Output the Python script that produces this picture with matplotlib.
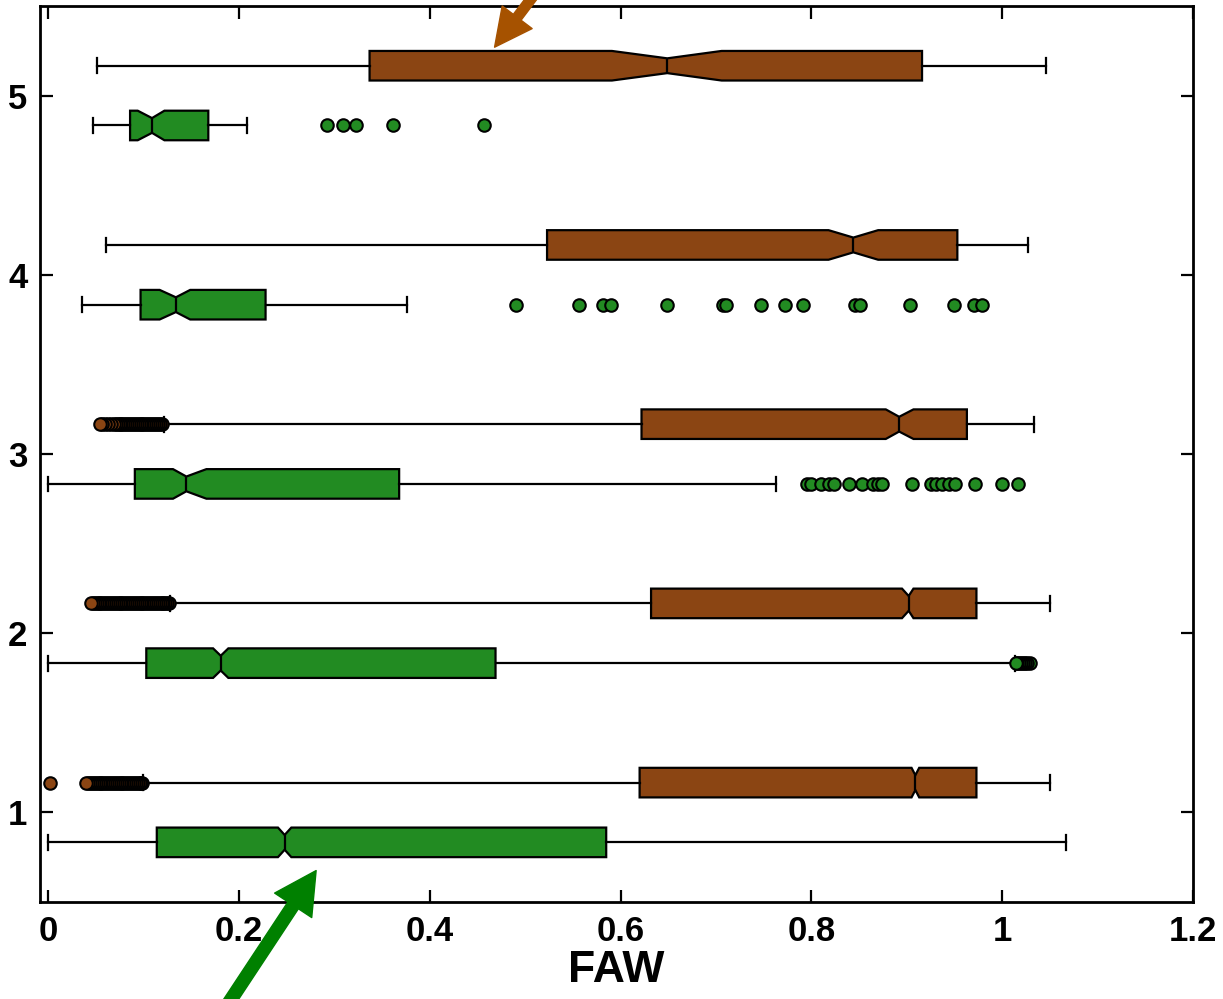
import matplotlib
matplotlib.use("Agg")
import matplotlib.pyplot as plt

plt.rcParams['font.family'] = ['Liberation Sans', 'DejaVu Sans']

# brown boxes (upper one at each level), levels 1..5
brown_whislo = [0.100, 0.128, 0.122, 0.061, 0.051]
brown_q1 = [0.620, 0.632, 0.622, 0.523, 0.337]
brown_cilo = [0.905, 0.895, 0.878, 0.818, 0.591]
brown_med = [0.909, 0.902, 0.892, 0.844, 0.649]
brown_cihi = [0.913, 0.907, 0.907, 0.870, 0.706]
brown_q3 = [0.973, 0.973, 0.963, 0.953, 0.916]
brown_whishi = [1.050, 1.050, 1.033, 1.027, 1.046]
# outliers listed high to low (the low ones end up on top)
brown_fliers = [
    [0.099, 0.097, 0.096, 0.094, 0.092, 0.090, 0.088, 0.086, 0.084, 0.082,
     0.080, 0.078, 0.076, 0.074, 0.072, 0.070, 0.068, 0.066, 0.064, 0.062,
     0.060, 0.058, 0.056, 0.054, 0.052, 0.050, 0.048, 0.046, 0.044, 0.042,
     0.040, 0.002],
    [0.127, 0.125, 0.123, 0.121, 0.119, 0.117, 0.115, 0.113, 0.111, 0.109,
     0.107, 0.105, 0.103, 0.101, 0.099, 0.097, 0.095, 0.093, 0.091, 0.089,
     0.087, 0.085, 0.083, 0.081, 0.079, 0.077, 0.075, 0.073, 0.071, 0.069,
     0.067, 0.065, 0.063, 0.061, 0.059, 0.057, 0.055, 0.053, 0.051, 0.049,
     0.047, 0.045],
    [0.119, 0.117, 0.115, 0.113, 0.111, 0.109, 0.107, 0.105, 0.103, 0.101,
     0.099, 0.097, 0.095, 0.093, 0.091, 0.089, 0.087, 0.085, 0.083, 0.081,
     0.079, 0.077, 0.075, 0.073, 0.071, 0.069, 0.066, 0.063, 0.060, 0.057,
     0.054],
    [],
    [],
]

# green boxes (lower one at each level)
green_whislo = [0.000, 0.000, 0.000, 0.036, 0.047]
green_q1 = [0.114, 0.103, 0.091, 0.097, 0.086]
green_cilo = [0.241, 0.173, 0.131, 0.117, 0.094]
green_med = [0.248, 0.181, 0.145, 0.134, 0.109]
green_cihi = [0.255, 0.189, 0.166, 0.149, 0.122]
green_q3 = [0.585, 0.469, 0.368, 0.228, 0.168]
green_whishi = [1.067, 1.013, 0.763, 0.376, 0.209]
green_fliers = [
    [],
    [1.029, 1.026, 1.024, 1.022, 1.020, 1.018, 1.016, 1.014],
    [0.795, 0.800, 0.810, 0.818, 0.824, 0.839, 0.853, 0.865, 0.870, 0.874,
     0.905, 0.925, 0.931, 0.937, 0.944, 0.951, 0.972, 1.000, 1.017],
    [0.490, 0.556, 0.582, 0.590, 0.649, 0.707, 0.711, 0.747, 0.772, 0.791,
     0.846, 0.851, 0.903, 0.950, 0.970, 0.979],
    [0.292, 0.309, 0.323, 0.362, 0.457],
]

levels = [1, 2, 3, 4, 5]
brown = '#8B4513'
green = '#228B22'


def make_stats(whislo, q1, cilo, med, cihi, q3, whishi, fliers):
    stats = []
    for i in range(len(med)):
        stats.append(dict(whislo=whislo[i], q1=q1[i], cilo=cilo[i], med=med[i],
                          cihi=cihi[i], q3=q3[i], whishi=whishi[i],
                          fliers=fliers[i]))
    return stats


fig = plt.figure(figsize=(12.23, 9.99), dpi=100)
ax = fig.add_axes([0.0327, 0.097, 0.9428, 0.897])

groups = [
    (make_stats(brown_whislo, brown_q1, brown_cilo, brown_med, brown_cihi,
                brown_q3, brown_whishi, brown_fliers), brown, 1 / 6),
    (make_stats(green_whislo, green_q1, green_cilo, green_med, green_cihi,
                green_q3, green_whishi, green_fliers), green, -1 / 6),
]
for stats, color, offset in groups:
    ax.bxp(stats, positions=[l + offset for l in levels], widths=0.165,
           orientation='horizontal', shownotches=True, patch_artist=True,
           manage_ticks=False,
           boxprops=dict(facecolor=color, edgecolor='black', linewidth=1.6),
           medianprops=dict(color='black', linewidth=1.6),
           whiskerprops=dict(color='black', linewidth=1.6),
           capprops=dict(color='black', linewidth=1.6),
           flierprops=dict(marker='o', markersize=9, markerfacecolor=color,
                           markeredgecolor='black', markeredgewidth=1.5))

ax.set_xlim(-0.0084, 1.2)
ax.set_ylim(0.5, 5.5)
ax.set_xticks([0, 0.2, 0.4, 0.6, 0.8, 1, 1.2])
ax.set_xticklabels(['0', '0.2', '0.4', '0.6', '0.8', '1', '1.2'])
ax.set_yticks(levels)
ax.set_yticklabels([str(l) for l in levels])
ax.tick_params(direction='in', length=9, width=1.6, top=True, right=True,
               labelsize=25, pad=9)
for lab in ax.get_xticklabels() + ax.get_yticklabels():
    lab.set_fontweight('bold')
for sp in ax.spines.values():
    sp.set_linewidth(2)
ax.set_xlabel('FAW', fontsize=32, fontweight='bold', labelpad=2)

# pointer arrows outside the axes
ax.annotate('', xy=(0.468, 5.27), xytext=(0.512, 5.58), annotation_clip=False,
            arrowprops=dict(facecolor='#A65200', edgecolor='#A65200',
                            width=7, headwidth=27, headlength=27))
ax.annotate('', xy=(0.281, 0.676), xytext=(0.186, -0.09), annotation_clip=False,
            arrowprops=dict(facecolor='#008000', edgecolor='#008000',
                            width=9, headwidth=32, headlength=30))

fig.savefig('out.png', dpi=100)
